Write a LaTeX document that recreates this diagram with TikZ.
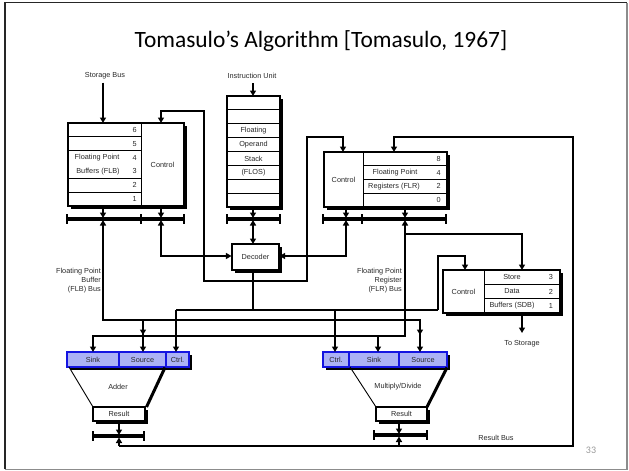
\documentclass[tikz,border=0pt]{standalone}
\usepackage{fontspec}
\setmainfont{Liberation Sans}
\newfontfamily\titlefont{Carlito}
\usetikzlibrary{arrows.meta,calc,shadows}
\definecolor{bluedge}{RGB}{20,20,225}
\definecolor{bluefill}{RGB}{172,178,245}
\definecolor{txt}{RGB}{40,40,40}
\begin{document}
\begin{tikzpicture}[x=1pt,y=-1pt,
  >={Triangle[length=5.5pt,width=6pt]},
  every node/.style={font=\fontsize{7.3}{9}\selectfont, text=txt, inner sep=0pt},
  wire/.style={line width=2.9pt},
  busbar/.style={line width=3.2pt},
  tickm/.style={line width=2.4pt},
  rowline/.style={line width=1pt},
  boxn/.style={draw=black, line width=1.1pt, fill=white,
     drop shadow={shadow xshift=2.8pt, shadow yshift=-2.8pt, fill=black, opacity=1}},
  bluebar/.style={draw=bluedge, line width=1.5pt, fill=bluefill,
     drop shadow={shadow xshift=2.8pt, shadow yshift=-2.8pt, fill=black, opacity=1}},
  numr/.style={anchor=east},
]
\useasboundingbox (0,0) rectangle (629,471);
% slide frame
\draw[line width=1.6pt, black!85] (5,469) -- (5,2.5) -- (627,2.5);
\draw[line width=1.2pt, black!45] (5,469.5) -- (627,469.5) -- (627,2.5);
\node[font=\titlefont\fontsize{23.4}{28}\selectfont, text=black] (title) at (321,41) {Tomasulo’s Algorithm [Tomasulo, 1967]};
\node[font=\titlefont\fontsize{10}{12}\selectfont, text=black!40] (pnum) at (591,450) {33};

% ---------------- boxes ----------------
\node[boxn, minimum width=116pt, minimum height=83pt] (flb) at (126,164.5) {};
\node[boxn, minimum width=53pt, minimum height=111pt] (flos) at (253.5,151.5) {};
\node[boxn, minimum width=123pt, minimum height=55pt] (flr) at (385.5,179.5) {};
\node[boxn, minimum width=117pt, minimum height=43pt] (sdb) at (501.5,291.5) {};
\node[boxn, minimum width=47pt, minimum height=26pt] (dec) at (255.5,257) {Decoder};
\node[bluebar, minimum width=122pt, minimum height=15pt] (addbar) at (128,359.5) {};
\node[bluebar, minimum width=124pt, minimum height=15pt] (mulbar) at (385,359.5) {};
\node[boxn, minimum width=52pt, minimum height=14pt] (addres) at (119,414) {Result};
\node[boxn, minimum width=51pt, minimum height=14pt] (mulres) at (401.5,414) {Result};

% FLB contents
\draw[rowline] (141,123) -- (141,206);
\foreach \yy in {136.8,150.7,178.3,192.2} \draw[rowline] (68,\yy) -- (141,\yy);
\node[numr] (f6) at (137,129.9) {6};
\node[numr] (f5) at (137,143.8) {5};
\node[numr] (f4) at (137,157.6) {4};
\node[numr] (f3) at (137,171.4) {3};
\node[numr] (f2) at (137,185.3) {2};
\node[numr] (f1) at (137,199.1) {1};
\node (flbt1) at (97,157.6) {Floating Point};
\node (flbt2) at (98,171.4) {Buffers (FLB)};
\node (flbc) at (162.5,164.5) {Control};

% FLOS contents
\foreach \yy in {109.9,123.75,137.6,151.5,165.4,179.25,193.1} \draw[rowline] (227,\yy) -- (280,\yy);
\node (fl1) at (253.5,130.7) {Floating};
\node (fl2) at (253.5,144.6) {Operand};
\node (fl3) at (253.5,158.4) {Stack};
\node (fl4) at (253.5,172.3) {(FLOS)};

% FLR contents
\draw[rowline] (363,152) -- (363,207);
\foreach \yy in {165.75,179.5,193.25} \draw[rowline] (363,\yy) -- (447,\yy);
\node[numr] (r8) at (441,158.9) {8};
\node[numr] (r4) at (441,172.6) {4};
\node[numr] (r2) at (441,186.4) {2};
\node[numr] (r0) at (441,200.1) {0};
\node (flrt1) at (395,172.6) {Floating Point};
\node (flrt2) at (394,186.4) {Registers (FLR)};
\node (flrc) at (343.5,179.5) {Control};

% SDB contents
\draw[rowline] (484,270) -- (484,313);
\foreach \yy in {284.3,298.7} \draw[rowline] (484,\yy) -- (560,\yy);
\node (s1) at (512,277.2) {Store};
\node (s2) at (512,291.5) {Data};
\node (s3) at (512,305.8) {Buffers (SDB)};
\node (n3) at (551,277.2) {3};
\node (n2) at (551,291.5) {2};
\node (n1) at (551,305.8) {1};
\node (sdbc) at (463.5,291.5) {Control};

% blue bars contents
\draw[draw=bluedge, line width=1.5pt] (119,352) -- (119,367) (166,352) -- (166,367);
\node (asink) at (93,359.5) {Sink};
\node (asrc) at (142.5,359.5) {Source};
\node (actl) at (177.5,359.5) {Ctrl.};
\draw[draw=bluedge, line width=1.5pt] (349,352) -- (349,367) (399,352) -- (399,367);
\node (mctl) at (336,359.5) {Ctrl.};
\node (msink) at (374,359.5) {Sink};
\node (msrc) at (423,359.5) {Source};

% trapezoids
\draw[line width=0.9pt] (69,367) -- (93,407);
\draw[line width=3pt] (165,367.5) -- (146.5,407);
\node (adder) at (118,387) {Adder};
\draw[line width=0.9pt] (350,367) -- (376,407);
\draw[line width=3pt] (447,367.5) -- (427,407);
\node (muldiv) at (398,387) {Multiply/Divide};

% ---------------- labels ----------------
\node (lsb) at (105,76) {Storage Bus};
\node (liu) at (252,76) {Instruction Unit};
\node[align=right, anchor=east] (lflb) at (101,281) {Floating Point\\Buffer\\(FLB) Bus};
\node[align=right, anchor=east] (lflr) at (402,281) {Floating Point\\Register\\(FLR) Bus};
\node (lrb) at (496,438) {Result Bus};
\node (lts) at (522,344) {To Storage};

% ---------------- bus bars ----------------
\draw[busbar] (67,219) -- (184,219);
\foreach \xx in {67,141,184} \draw[tickm] (\xx,214) -- (\xx,224);
\draw[busbar] (227,219) -- (280,219);
\foreach \xx in {227,280} \draw[tickm] (\xx,214) -- (\xx,224);
\draw[busbar] (323,219) -- (446,219);
\foreach \xx in {323,362,446} \draw[tickm] (\xx,214) -- (\xx,224);
\draw[busbar] (93,436) -- (144,436);
\foreach \xx in {93,144} \draw[tickm] (\xx,431) -- (\xx,441);
\draw[busbar] (374,435) -- (427,435);
\foreach \xx in {374,427} \draw[tickm] (\xx,430) -- (\xx,440);

% ---------------- connectors ----------------
% inputs from top
\draw[wire,->] (lsb.south -| 103,0) ++(0,3) -- (103,123);
\draw[wire,->] (253,83) -- (253,96);
% boxes to bus bars
\draw[wire,->] (103,206) -- (103,218);
\draw[wire,->] (161,206) -- (161,218);
\draw[wire,->] (253,207) -- (253,218);
\draw[wire,->] (346,207) -- (346,218);
\draw[wire,->] (405,207) -- (405,218);
% FLOS bar <-> decoder
\draw[wire,<->] (253,220) -- (253,244);
% control loop
\draw[wire,<->] (161,123) -- (161,111) -- (204,111) -- (204,281) -- (307,281) -- (307,137) -- (343,137) -- (343,152);
% FLB bar <-> decoder
\draw[wire,<->] (161,220) -- (161,256) -- (dec.west |- 0,256);
% FLR bar <-> decoder
\draw[wire,<->] (346,220) -- (346,256) -- (dec.east |- 0,256);
% FLB bus
\draw[wire,<->] (103,220) -- (103,320) -| (420,352);
\draw[wire,->] (420,320) -- (420,335);
\draw[wire,->] (143,320) -- (143,352);
\draw[wire,->] (143,320) -- (143,335);
% FLR bus
\draw[wire,<->] (405,220) -- (405,336) -| (93,352);
\draw[wire,->] (378,336) -- (378,352);
\draw[wire,->] (405,234) -| (522,270);
% decoder bus
\draw[wire] (253,270) -- (253,310);
\draw[wire] (176,310) -- (438,310);
\draw[wire,->] (176,310) -- (176,352);
\draw[wire,->] (335,310) -- (335,352);
\draw[wire,->] (438,310) -- (438,256) -| (465,270);
% to storage
\draw[wire,->] (522,313) -- (522,333);
% result units to bars
\draw[wire,->] (119,421) -- (119,435);
\draw[wire,->] (399,421) -- (399,434);
% result bus
\draw[wire,->] (119,446) -- (119,437.5);
\draw[wire,->] (399,446) -- (399,436.5);
\draw[wire,->] (119,446) -- (573,446) -- (573,137) -- (394,137) -- (394,152);
\end{tikzpicture}
\end{document}
